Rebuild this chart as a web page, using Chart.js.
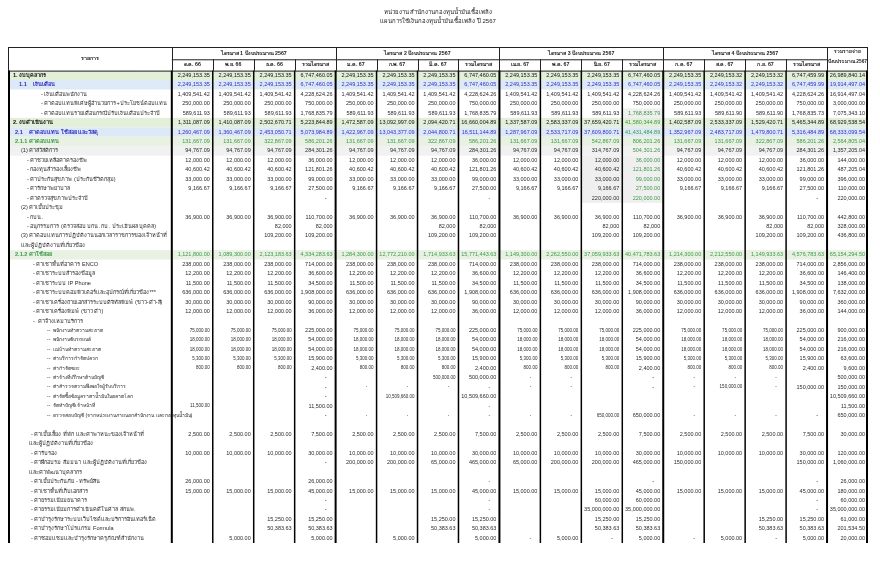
<!DOCTYPE html>
<html>
<head>
<meta charset="utf-8">
<script src="https://cdn.jsdelivr.net/npm/chart.js@4.4.1/dist/chart.umd.min.js"></script>
<style>
  body { margin: 0; background: #fff; }
</style>
</head>
<body>
<canvas id="budgetTable" width="880" height="567"></canvas>
<script>
const titleLines = ['หน่วยงาน สำนักงานกองทุนน้ำมันเชื้อเพลิง', 'แผนการใช้เงินกองทุนน้ำมันเชื้อเพลิง ปี 2567'];
const quarterTitles = ['ไตรมาส 1 ปีงบประมาณ 2567', 'ไตรมาส 2 ปีงบประมาณ 2567', 'ไตรมาส 3 ปีงบประมาณ 2567', 'ไตรมาส 4 ปีงบประมาณ 2567'];
const monthLabels = [
  'ต.ค. 66', 'พ.ย. 66', 'ธ.ค. 66', 'รวมไตรมาส',
  'ม.ค. 67', 'ก.พ. 67', 'มี.ค. 67', 'รวมไตรมาส',
  'เม.ย. 67', 'พ.ค. 67', 'มิ.ย. 67', 'รวมไตรมาส',
  'ก.ค. 67', 'ส.ค. 67', 'ก.ย. 67', 'รวมไตรมาส'
];
const totalHeader = ['รวมรายจ่าย', 'ปีงบประมาณ 2567'];

const rowLabels = [
  '1. งบบุคลากร',
  '1.1    เงินเดือน',
  '- เงินเดือนพนักงาน',
  '- ค่าตอบแทนพิเศษผู้อำนวยการ+ประโยชน์ตอบแทน',
  '- ค่าตอบแทนรายเดือนกรณีปรับเงินเดือนประจำปี',
  '2. งบดำเนินงาน',
  '2.1    ค่าตอบแทน ใช้สอย และวัสดุ',
  '2.1.1 ค่าตอบแทน',
  '(1) ค่าสวัสดิการ',
  '- ค่าช่วยเหลือค่าครองชีพ',
  '- กองทุนสำรองเลี้ยงชีพ',
  '- ค่าประกันสุขภาพ (ประกันชีวิตกลุ่ม)',
  '- ค่ารักษาพยาบาล',
  '- ค่าตรวจสุขภาพประจำปี',
  '(2) ค่าเบี้ยประชุม',
  '- กบน.',
  '- อนุกรรมการ (ตรวจสอบ บกน. กบ. ประเมินผล บุคคล)',
  '(3) ค่าตอบแทนการปฏิบัติงานนอกเวลาราชการของเจ้าหน้าที่',
  'และผู้ปฏิบัติงานที่เกี่ยวข้อง',
  '2.1.2 ค่าใช้สอย',
  '- ค่าเช่าพื้นที่อาคาร ENCO',
  '- ค่าเช่าระบบสำรองข้อมูล',
  '- ค่าเช่าระบบ IP Phone',
  '- ค่าเช่าระบบคอมพิวเตอร์และอุปกรณ์ที่เกี่ยวข้อง***',
  '- ค่าเช่าเครื่องถ่ายเอกสารระบบดิจิทัลพิมพ์ (ขาว-ดำ-สี)',
  '- ค่าเช่าเครื่องพิมพ์ (ขาว ดำ)',
  '-  ค่าจ้างเหมาบริการ',
  '--  พนักงานทำความสะอาด',
  '--  พนักงานขับรถยนต์',
  '--  แม่บ้านทำความสะอาด',
  '--  ค่าบริการกำจัดปลวก',
  '--  ค่ากำจัดขยะ',
  '--  ค่าจ้างที่ปรึกษาด้านบัญชี',
  '--  ค่าสำรวจความพึงพอใจผู้รับบริการ',
  '--  ค่าจัดซื้อข้อมูลราคาน้ำมันในตลาดโลก',
  '--  จัดทำบัญชีเจ้าหน้าที่',
  '--  ตรวจสอบบัญชี (จากหน่วยงานภายนอกสำนักงาน และกองทุนน้ำมัน)',
  '',
  '- ค่าเบี้ยเลี้ยง ที่พัก และค่าพาหนะของเจ้าหน้าที่',
  'และผู้ปฏิบัติงานที่เกี่ยวข้อง',
  '- ค่ารับรอง',
  '- ค่าฝึกอบรม สัมมนา และผู้ปฏิบัติงานที่เกี่ยวข้อง',
  'และค่าพัฒนาบุคลากร',
  '- ค่าเบี้ยประกันภัย - ทรัพย์สิน',
  '- ค่าเช่าพื้นที่เก็บเอกสาร',
  '- ค่าธรรมเนียมธนาคาร',
  '- ค่าธรรมเนียมการดำเนินคดีในศาล สกนพ.',
  '- ค่าบำรุงรักษาระบบเว็บไซต์และบริการอินเทอร์เน็ต',
  '- ค่าบำรุงรักษาโปรแกรม Formula',
  '- ค่าซ่อมแซมและบำรุงรักษาครุภัณฑ์สำนักงาน'
];

const q1Values = [
  [2249153.35, 2249153.35, 2249153.35, 6747460.05],
  [2249153.35, 2249153.35, 2249153.35, 6747460.05],
  [1409541.42, 1409541.42, 1409541.42, 4228624.26],
  [250000, 250000, 250000, 750000],
  [589611.93, 589611.93, 589611.93, 1768835.79],
  [1311087.09, 1410087.09, 2502670.71, 5223844.89],
  [1260467.09, 1360467.09, 2453050.71, 5073984.89],
  [131667.09, 131667.09, 322867.09, 586201.26],
  [94767.09, 94767.09, 94767.09, 284301.26],
  [12000, 12000, 12000, 36000],
  [40600.42, 40600.42, 40600.42, 121801.26],
  [33000, 33000, 33000, 99000],
  [9166.67, 9166.67, 9166.67, 27500],
  [null, null, null, '-'],
  [null, null, null, null],
  [36900, 36900, 36900, 110700],
  [null, null, 82000, 82000],
  [null, null, 109200, 109200],
  [null, null, null, null],
  [1121800, 1089300, 2123183.63, 4334283.63],
  [238000, 238000, 238000, 714000],
  [12200, 12200, 12200, 36600],
  [11500, 11500, 11500, 34500],
  [636000, 636000, 636000, 1908000],
  [30000, 30000, 30000, 90000],
  [12000, 12000, 12000, 36000],
  [null, null, null, null],
  [75000, 75000, 75000, 225000],
  [18000, 18000, 18000, 54000],
  [18000, 18000, 18000, 54000],
  [5300, 5300, 5300, 15900],
  [800, 800, 800, 2400],
  [null, null, null, '-'],
  [null, null, null, '-'],
  [null, null, null, '-'],
  [11500, null, null, 11500],
  [null, null, null, '-'],
  [null, null, null, null],
  [2500, 2500, 2500, 7500],
  [null, null, null, null],
  [10000, 10000, 10000, 30000],
  [null, null, null, '-'],
  [null, null, null, null],
  [26000, null, null, 26000],
  [15000, 15000, 15000, 45000],
  [null, null, null, '-'],
  [null, null, null, '-'],
  [null, null, 15250, 15250],
  [null, null, 50383.63, 50383.63],
  [null, 5000, null, 5000]
];

const q2Values = [
  [2249153.35, 2249153.35, 2249153.35, 6747460.05],
  [2249153.35, 2249153.35, 2249153.35, 6747460.05],
  [1409541.42, 1409541.42, 1409541.42, 4228624.26],
  [250000, 250000, 250000, 750000],
  [589611.93, 589611.93, 589611.93, 1768835.79],
  [1472587.09, 13092997.09, 2094420.71, 16660004.89],
  [1422967.09, 13043377.09, 2044800.71, 16511144.89],
  [131667.09, 131667.09, 322867.09, 586201.26],
  [94767.09, 94767.09, 94767.09, 284301.26],
  [12000, 12000, 12000, 36000],
  [40600.42, 40600.42, 40600.42, 121801.26],
  [33000, 33000, 33000, 99000],
  [9166.67, 9166.67, 9166.67, 27500],
  [null, null, null, '-'],
  [null, null, null, null],
  [36900, 36900, 36900, 110700],
  [null, null, 82000, 82000],
  [null, null, 109200, 109200],
  [null, null, null, null],
  [1284300, 12772210, 1714933.63, 15771443.63],
  [238000, 238000, 238000, 714000],
  [12200, 12200, 12200, 36600],
  [11500, 11500, 11500, 34500],
  [636000, 636000, 636000, 1908000],
  [30000, 30000, 30000, 90000],
  [12000, 12000, 12000, 36000],
  [null, null, null, null],
  [75000, 75000, 75000, 225000],
  [18000, 18000, 18000, 54000],
  [18000, 18000, 18000, 54000],
  [5300, 5300, 5300, 15900],
  [800, 800, 800, 2400],
  [null, null, 500000, 500000],
  ['-', '-', '-', '-'],
  [null, 10509660, null, 10509660],
  [null, null, null, '-'],
  ['-', '-', '-', '-'],
  [null, null, null, null],
  [2500, 2500, 2500, 7500],
  [null, null, null, null],
  [10000, 10000, 10000, 30000],
  [200000, 200000, 65000, 465000],
  [null, null, null, null],
  [null, null, null, '-'],
  [15000, 15000, 15000, 45000],
  [null, null, null, '-'],
  [null, null, null, '-'],
  [null, null, 15250, 15250],
  [null, null, 50383.63, 50383.63],
  [null, 5000, null, 5000]
];

const q3Values = [
  [2249153.35, 2249153.35, 2249153.35, 6747460.05],
  [2249153.35, 2249153.35, 2249153.35, 6747460.05],
  [1409541.42, 1409541.42, 1409541.42, 4228624.26],
  [250000, 250000, 250000, 750000],
  [589611.93, 589611.93, 589611.93, 1768835.79],
  [1337587.09, 2583337.09, 37659420.71, 41580344.89],
  [1287967.09, 2533717.09, 37609800.71, 41431484.89],
  [131667.09, 131667.09, 542867.09, 806201.26],
  [94767.09, 94767.09, 314767.09, 504301.26],
  [12000, 12000, 12000, 36000],
  [40600.42, 40600.42, 40600.42, 121801.26],
  [33000, 33000, 33000, 99000],
  [9166.67, 9166.67, 9166.67, 27500],
  [null, null, 220000, 220000],
  [null, null, null, null],
  [36900, 36900, 36900, 110700],
  [null, null, 82000, 82000],
  [null, null, 109200, 109200],
  [null, null, null, null],
  [1149300, 2262550, 37059933.63, 40471783.63],
  [238000, 238000, 238000, 714000],
  [12200, 12200, 12200, 36600],
  [11500, 11500, 11500, 34500],
  [636000, 636000, 636000, 1908000],
  [30000, 30000, 30000, 90000],
  [12000, 12000, 12000, 36000],
  [null, null, null, null],
  [75000, 75000, 75000, 225000],
  [18000, 18000, 18000, 54000],
  [18000, 18000, 18000, 54000],
  [5300, 5300, 5300, 15900],
  [800, 800, 800, 2400],
  ['-', '-', null, '-'],
  ['-', '-', null, '-'],
  [null, null, null, null],
  [null, null, null, null],
  ['-', '-', 650000, 650000],
  [null, null, null, null],
  [2500, 2500, 2500, 7500],
  [null, null, null, null],
  [10000, 10000, 10000, 30000],
  [65000, 200000, 200000, 465000],
  [null, null, null, null],
  [null, null, null, '-'],
  [15000, 15000, 15000, 45000],
  [null, null, 60000, 60000],
  [null, null, 35000000, 35000000],
  [null, null, 15250, 15250],
  [null, null, 50383.63, 50383.63],
  ['-', 5000, '-', 5000]
];

const q4Values = [
  [2249153.35, 2249153.32, 2249153.32, 6747459.99],
  [2249153.35, 2249153.32, 2249153.32, 6747459.99],
  [1409541.42, 1409541.42, 1409541.42, 4228624.26],
  [250000, 250000, 250000, 750000],
  [589611.93, 589611.90, 589611.90, 1768835.73],
  [1402587.09, 2533337.09, 1529420.71, 5465344.89],
  [1352967.09, 2483717.09, 1479800.71, 5316484.89],
  [131667.09, 131667.09, 322867.09, 586201.26],
  [94767.09, 94767.09, 94767.09, 284301.26],
  [12000, 12000, 12000, 36000],
  [40600.42, 40600.42, 40600.42, 121801.26],
  [33000, 33000, 33000, 99000],
  [9166.67, 9166.67, 9166.67, 27500],
  [null, null, null, '-'],
  [null, null, null, null],
  [36900, 36900, 36900, 110700],
  [null, null, 82000, 82000],
  [null, null, 109200, 109200],
  [null, null, null, null],
  [1214300, 2212550, 1149933.63, 4576783.63],
  [238000, 238000, 238000, 714000],
  [12200, 12200, 12200, 36600],
  [11500, 11500, 11500, 34500],
  [636000, 636000, 636000, 1908000],
  [30000, 30000, 30000, 90000],
  [12000, 12000, 12000, 36000],
  [null, null, null, null],
  [75000, 75000, 75000, 225000],
  [18000, 18000, 18000, 54000],
  [18000, 18000, 18000, 54000],
  [5300, 5300, 5300, 15900],
  [800, 800, 800, 2400],
  ['-', '-', '-', null],
  ['-', 150000, '-', 150000],
  [null, null, null, null],
  [null, null, null, null],
  ['-', '-', '-', '-'],
  [null, null, null, null],
  [2500, 2500, 2500, 7500],
  [null, null, null, null],
  [10000, 10000, 10000, 30000],
  [150000, null, null, 150000],
  [null, null, null, null],
  [null, null, null, '-'],
  [15000, 15000, 15000, 45000],
  [null, null, null, '-'],
  [null, null, null, '-'],
  [null, null, 15250, 15250],
  [null, null, 50383.63, 50383.63],
  ['-', 5000, '-', 5000]
];

const yearTotals = [
  26989840.14, 19914497.04, 16914497.04, 3000000, 7075343.10,
  68929538.54, 68333099.54, 2564805.04, 1357205.04, 144000,
  487205.04, 396000, 110000, 220000, null,
  442800, 328000, 436800, null, 65154294.50,
  2856000, 146400, 138000, 7632000, 360000,
  144000, null, 900000, 216000, 216000,
  63600, 9600, 500000, 150000, 10509660,
  11500, 650000, null, 30000, null,
  120000, 1060000, null, 26000, 180000,
  60000, 35000000, 61000, 201534.50, 20000
];

// ---- styling / layout (kept apart from the data) ----
const FONT = '"Liberation Sans", "Noto Sans", sans-serif';
const DARK = '#2b2b2b';
const BLUE = '#2f2fc0';
const GREEN = '#3c9a48';
const rowStyle = { 0: 'group', 1: 'sub', 5: 'group', 6: 'sub', 7: 'sec', 8: 'gray', 19: 'sec' };
const rowFill = { group: '#e3efd9', sub: '#dde9f6', sec: '#e9f1e3', gray: '#f1f1f1' };
const rowColor = { group: '#111', sub: BLUE, sec: GREEN, gray: DARK };
const labelIndent = [2, 8, 30, 30, 30, 2, 4, 4, 10, 16, 16, 16, 16, 16, 10, 16, 16, 10, 10, 4,
  22, 22, 22, 22, 22, 22, 22, 36, 36, 36, 36, 36, 36, 36, 36, 36, 36, 0,
  20, 18, 20, 20, 18, 20, 20, 20, 20, 20, 20, 20];
const smallRows = [27, 28, 29, 30, 31, 32, 33, 34, 35, 36];
const wholeNumberRows = [16];

function fmt(v, whole) {
  if (typeof v !== 'number') return v;
  return v.toLocaleString('en-US', { minimumFractionDigits: whole ? 0 : 2, maximumFractionDigits: whole ? 0 : 2 });
}

function cellValue(row, col) {
  if (col === 16) return yearTotals[row];
  const q = [q1Values, q2Values, q3Values, q4Values][Math.floor(col / 4)];
  return q[row][col % 4];
}

const tablePlugin = {
  id: 'budgetTable',
  beforeDraw(chart) {
    const { ctx, scales: { x, y } } = chart;
    const left = x.getPixelForValue(0), right = x.getPixelForValue(21);
    ctx.save();
    rowLabels.forEach((_, r) => {
      const kind = rowStyle[r];
      const top = y.getPixelForValue(r), bot = y.getPixelForValue(r + 1);
      if (kind) {
        ctx.fillStyle = rowFill[kind];
        ctx.fillRect(left, top, right - left, bot - top);
      }
    });
    // grey highlight in the third quarter
    ctx.fillStyle = '#efefef';
    const qa = x.getPixelForValue(14), qb = x.getPixelForValue(16);
    ctx.fillRect(qa, y.getPixelForValue(9), qb - qa, y.getPixelForValue(14) - y.getPixelForValue(9));
    ctx.fillRect(x.getPixelForValue(15), y.getPixelForValue(4), x.getPixelForValue(16) - x.getPixelForValue(15), y.getPixelForValue(5) - y.getPixelForValue(4));
    ctx.restore();
  },
  afterDraw(chart) {
    const { ctx, scales: { x, y } } = chart;
    const left = x.getPixelForValue(0), right = x.getPixelForValue(21);
    const hTop = y.getPixelForValue(-2.5), hMid = y.getPixelForValue(-1.2), hBot = y.getPixelForValue(0);
    const bodyBot = y.getPixelForValue(rowLabels.length);
    ctx.save();

    // title
    ctx.fillStyle = '#222';
    ctx.textAlign = 'center';
    ctx.textBaseline = 'middle';
    ctx.font = '6px ' + FONT;
    const cx = (left + right) / 2;
    titleLines.forEach((t, i) => ctx.fillText(t, cx, y.getPixelForValue(-6.2 + i * 0.95)));

    // header grid
    ctx.strokeStyle = '#222';
    ctx.lineWidth = 1;
    ctx.beginPath();
    ctx.moveTo(left, hTop + 0.5); ctx.lineTo(right, hTop + 0.5);
    ctx.moveTo(x.getPixelForValue(4), hMid + 0.5); ctx.lineTo(x.getPixelForValue(20), hMid + 0.5);
    ctx.moveTo(left, hBot + 0.5); ctx.lineTo(right, hBot + 0.5);
    for (let c = 4; c <= 20; c++) {
      const px = Math.round(x.getPixelForValue(c)) + 0.5;
      ctx.moveTo(px, (c - 4) % 4 === 0 ? hTop : hMid);
      ctx.lineTo(px, hBot);
    }
    ctx.moveTo(left + 0.5, hTop); ctx.lineTo(left + 0.5, hBot);
    ctx.moveTo(right - 0.5, hTop); ctx.lineTo(right - 0.5, hBot);
    ctx.stroke();

    // header text
    ctx.fillStyle = '#222';
    ctx.font = 'bold 5.3px ' + FONT;
    ctx.fillText('รายการ', (left + x.getPixelForValue(4)) / 2, (hTop + hBot) / 2);
    quarterTitles.forEach((t, q) => {
      ctx.fillText(t, (x.getPixelForValue(4 + q * 4) + x.getPixelForValue(8 + q * 4)) / 2, (hTop + hMid) / 2);
    });
    monthLabels.forEach((t, i) => {
      ctx.fillText(t, x.getPixelForValue(4.5 + i), (hMid + hBot) / 2);
    });
    ctx.font = 'bold 4.8px ' + FONT;
    ctx.fillText(totalHeader[0], x.getPixelForValue(20.5), y.getPixelForValue(-2.0));
    ctx.fillText(totalHeader[1], x.getPixelForValue(20.5), y.getPixelForValue(-0.9));

    // body vertical lines
    ctx.strokeStyle = '#000';
    for (let c = 0; c <= 21; c++) {
      if (c > 0 && c < 4) continue;
      const quarter = c === 0 || c === 21 || (c - 4) % 4 === 0;
      ctx.lineWidth = quarter ? 2 : 1.5;
      const px = x.getPixelForValue(c) + (c === 0 ? 1 : c === 21 ? -1 : 0);
      ctx.beginPath();
      ctx.moveTo(px, hBot);
      ctx.lineTo(px, bodyBot);
      ctx.stroke();
    }

    // body text
    ctx.textBaseline = 'middle';
    rowLabels.forEach((label, r) => {
      const kind = rowStyle[r];
      const cy = y.getPixelForValue(r + 0.5);
      const small = smallRows.includes(r);
      const bold = kind === 'group' || kind === 'sub' || kind === 'sec';
      ctx.fillStyle = kind ? rowColor[kind] : DARK;
      ctx.textAlign = 'left';
      ctx.font = (bold ? 'bold ' : '') + (small ? '5px ' : '5.6px ') + FONT;
      ctx.fillText(label, left + 3 + labelIndent[r], cy);

      for (let col = 0; col < 17; col++) {
        const v = cellValue(r, col);
        if (v === null || v === undefined) continue;
        const isTotal = col % 4 === 3 || col === 16;
        const cellRight = x.getPixelForValue(5 + col);
        let color = kind ? rowColor[kind] : DARK;
        if (col === 11 && r >= 4 && r <= 13) color = GREEN;
        ctx.fillStyle = color;
        ctx.font = (small && !isTotal ? '4.5px ' : '5.5px ') + FONT;
        if (v === '-') {
          ctx.textAlign = 'center';
          ctx.fillText('-', cellRight - 10, cy);
        } else {
          ctx.textAlign = 'right';
          ctx.fillText(fmt(v, wholeNumberRows.includes(r) && col !== 16), cellRight - 3, cy);
        }
      }
    });
    ctx.restore();
  }
};

new Chart(document.getElementById('budgetTable').getContext('2d'), {
  type: 'scatter',
  data: { datasets: [{ data: [], pointRadius: 0 }] },
  options: {
    responsive: false,
    animation: false,
    events: [],
    layout: { padding: { left: 8, right: 12, top: 47, bottom: 24 } },
    scales: {
      x: { type: 'linear', min: 0, max: 21, display: false },
      y: { type: 'linear', min: -2.5, max: rowLabels.length, reverse: true, display: false }
    },
    plugins: { legend: { display: false }, tooltip: { enabled: false } }
  },
  plugins: [tablePlugin]
});
</script>
</body>
</html>
